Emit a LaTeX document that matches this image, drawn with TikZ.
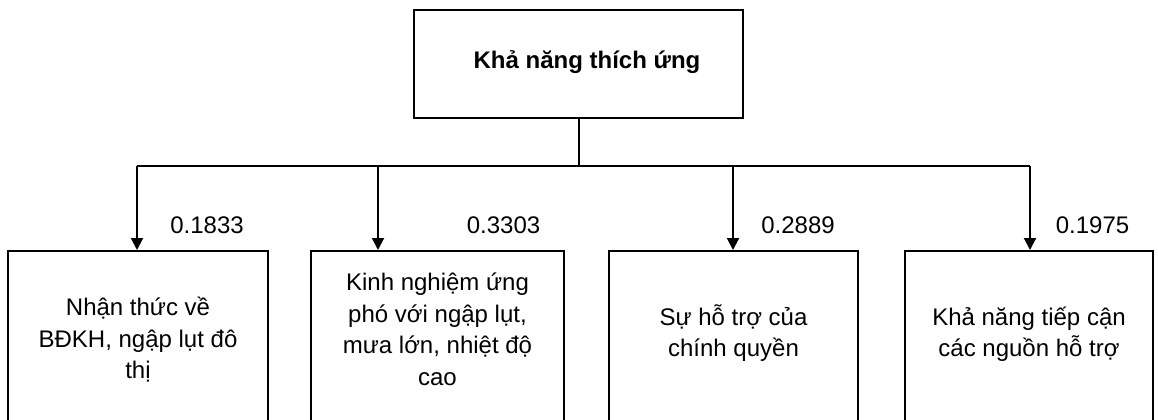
\documentclass[tikz,border=0pt]{standalone}
\usepackage{fontspec}
\setmainfont{Liberation Sans}
\usetikzlibrary{arrows.meta}
\begin{document}
\begin{tikzpicture}[x=0.5pt,y=-0.5pt, line width=1pt,
  boxstyle/.style={draw, rectangle, inner sep=0pt},
  lbl/.style={font=\fontsize{12}{15.75}\selectfont, align=center, anchor=base, inner sep=0pt},
  wt/.style={font=\fontsize{12}{15.75}\selectfont, anchor=base, inner sep=0pt},
  arr/.style={-{Triangle[length=6pt,width=6pt]}}]
\useasboundingbox (0,0) rectangle (1158,419);
\clip (0,0) rectangle (1158,419);
% top box
\node[boxstyle, minimum width=164.5pt, minimum height=54pt] (top) at (578.5,64) {};
\node[lbl, font=\fontsize{12}{15.75}\selectfont\bfseries] (title) at (587,68) {Khả năng thích ứng};
% lower boxes
\node[boxstyle, anchor=north, minimum width=130pt, minimum height=100pt] (b1) at (138,250) {};
\node[boxstyle, anchor=north, minimum width=126.5pt, minimum height=100pt] (b2) at (437.5,250) {};
\node[boxstyle, anchor=north, minimum width=124.5pt, minimum height=100pt] (b3) at (733.5,250) {};
\node[boxstyle, anchor=north, minimum width=124pt, minimum height=100pt] (b4) at (1029,250) {};
% texts in boxes (base = baseline of last line)
\node[lbl] (t1) at (138,378.7) {Nhận thức về\\BĐKH, ngập lụt đô\\thị};
\node[lbl] (t2) at (437.5,385.2) {Kinh nghiệm ứng\\phó với ngập lụt,\\mưa lớn, nhiệt độ\\cao};
\node[lbl] (t3) at (733.5,356.5) {Sự hỗ trợ của\\chính quyền};
\node[lbl] (t4) at (1029,356.5) {Khả năng tiếp cận\\các nguồn hỗ trợ};
% connectors
\coordinate (hy) at (0,166);
\coordinate (bus) at (top.south |- hy);
\coordinate (j1) at (137,166);
\coordinate (j2) at (378,166);
\coordinate (j3) at (733,166);
\coordinate (j4) at (1030,166);
\draw (top.south) -- (bus);
\draw (j1) -- (j4);
\draw[arr] (j1) -- (j1 |- b1.north);
\draw[arr] (j2) -- (j2 |- b2.north);
\draw[arr] (j3) -- (j3 |- b3.north);
\draw[arr] (j4) -- (j4 |- b4.north);
% weights
\node[wt] (w1) at (207,233) {0.1833};
\node[wt] (w2) at (503.5,233) {0.3303};
\node[wt] (w3) at (798,233) {0.2889};
\node[wt] (w4) at (1092.5,233) {0.1975};
\end{tikzpicture}
\end{document}
